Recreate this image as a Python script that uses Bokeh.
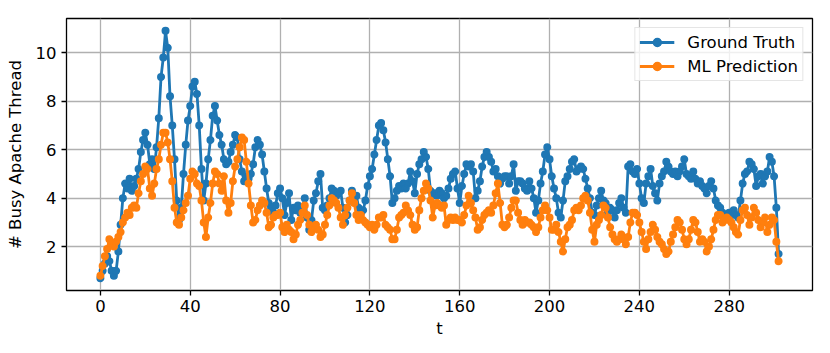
from bokeh.plotting import figure
from bokeh.models import FixedTicker, Range1d
from bokeh.embed import file_html
from bokeh.resources import INLINE

ground_truth = [
    0.7, 1.0, 1.3, 1.6, 1.4, 1.0, 0.8, 1.0, 1.8, 2.9,
    4.0, 4.6, 4.4, 4.8, 4.3, 4.5, 4.8, 5.2, 5.9, 6.4,
    6.7, 6.2, 5.4, 5.6, 5.2, 6.1, 7.3, 9.0, 9.8, 10.9,
    10.2, 8.2, 7.0, 5.6, 3.9, 3.1, 3.6, 5.0, 6.2, 7.2,
    7.8, 8.6, 8.8, 8.3, 7.0, 5.2, 3.9, 4.6, 5.6, 6.4,
    7.4, 7.8, 7.2, 6.6, 6.2, 5.6, 5.4, 5.5, 5.9, 6.2,
    6.6, 6.5, 5.6, 5.1, 4.7, 4.9, 4.8, 5.0, 5.4, 6.1,
    6.4, 6.2, 5.8, 5.1, 4.4, 3.8, 3.6, 3.4, 3.7, 4.2,
    4.4, 4.0, 3.3, 3.8, 4.2, 3.1, 3.6, 3.5, 3.7, 3.4,
    3.6, 4.0, 3.2, 2.7, 3.1, 3.9, 4.2, 4.7, 5.0, 3.6,
    3.5, 3.7, 4.0, 4.4, 4.3, 4.1, 4.2, 4.3, 3.6, 3.0,
    3.3, 3.9, 4.3, 4.0, 4.1, 3.6, 3.4, 3.5, 3.9, 4.5,
    4.9, 5.2, 5.8, 6.4, 7.0, 7.1, 6.8, 6.3, 5.6, 4.9,
    3.8, 4.0, 4.3, 4.5, 4.4, 4.6, 4.4, 4.6, 5.1, 4.7,
    4.2, 5.0, 5.4, 5.6, 5.9, 5.7, 5.2, 4.3, 4.1, 4.2,
    4.1, 4.3, 4.2, 4.0, 4.1, 4.4, 4.8, 5.0, 5.1, 4.4,
    3.8, 4.5, 5.0, 5.4, 5.3, 5.4, 5.1, 4.0, 4.3, 4.7,
    5.3, 5.7, 5.9, 5.7, 5.5, 5.1, 5.2, 4.9, 4.6, 4.8,
    4.9, 4.9, 4.6, 4.9, 5.4, 4.3, 4.7, 4.7, 4.6, 4.4,
    4.3, 4.7, 4.4, 4.0, 3.4, 3.9, 4.6, 5.1, 5.8, 6.1,
    5.6, 4.9, 4.4, 4.0, 3.4, 3.2, 3.9, 4.7, 4.9, 5.2,
    5.5, 5.6, 5.1, 5.2, 5.3, 5.2, 4.8, 4.4, 4.0, 3.4,
    3.3, 3.7, 4.0, 4.3, 3.9, 3.8, 3.4, 3.6, 3.5, 3.2,
    3.5, 3.8, 4.0, 3.6, 3.4, 5.3, 5.4, 5.1, 5.0, 5.2,
    4.6, 4.0, 3.8, 4.6, 4.9, 5.2, 4.5, 4.2, 3.9, 4.6,
    4.9, 5.1, 5.5, 5.3, 5.1, 5.0, 5.1, 4.9, 5.1, 5.3,
    5.6, 5.0, 4.9, 4.8, 5.1, 4.8, 4.6, 4.7, 4.5, 4.4,
    4.2, 4.5, 4.7, 4.4, 3.9, 3.7, 3.6, 3.4, 3.3, 3.2,
    3.4, 3.3, 3.5, 3.3, 3.2, 3.9, 4.6, 5.0, 5.1, 5.5,
    5.4, 5.2, 4.5, 4.9, 5.0, 4.6, 4.9, 5.1, 5.7, 5.5,
    4.9, 3.6, 1.7,
]

# ML prediction (orange)
ml_prediction = [
    0.8, 1.2, 1.6, 1.9, 2.3, 2.1, 2.0, 2.2, 2.4, 2.6,
    3.0, 3.2, 3.4, 3.3, 3.6, 3.7, 3.6, 4.2, 4.7, 5.0,
    5.3, 5.2, 4.4, 4.1, 4.6, 5.2, 5.6, 6.2, 6.7, 6.7,
    6.3, 5.6, 4.7, 3.6, 3.0, 2.9, 3.2, 3.5, 3.8, 4.1,
    4.8, 5.1, 5.0, 4.6, 4.5, 3.9, 3.0, 2.4, 3.2, 3.8,
    4.6, 5.1, 5.0, 4.6, 4.3, 4.9, 3.9, 3.4, 3.8, 4.7,
    5.3, 5.6, 6.1, 6.5, 6.4, 5.5, 4.6, 3.7, 3.0, 3.1,
    3.5, 3.7, 3.9, 3.8, 3.4, 2.8, 2.9, 3.2, 3.3, 3.3,
    3.4, 2.8, 2.6, 2.9, 2.7, 2.6, 2.3, 2.5, 2.9, 3.1,
    3.4, 3.7, 3.3, 2.9, 2.6, 2.8, 2.9, 2.7, 2.4, 2.5,
    2.9, 3.3, 3.7, 4.0, 3.9, 3.8, 3.6, 3.2, 2.9, 3.3,
    3.6, 3.9, 4.2, 3.8, 3.3, 3.1, 3.3, 3.1, 3.0, 2.9,
    2.8, 2.9, 2.7, 2.9, 3.2, 3.2, 3.3, 2.9, 2.8, 2.7,
    2.3, 2.3, 2.7, 3.2, 3.3, 3.4, 3.7, 3.5, 3.3, 2.9,
    2.7, 2.8, 3.5, 4.0, 4.3, 4.6, 4.4, 3.9, 3.2, 3.7,
    3.8, 3.7, 3.6, 3.7, 2.9, 3.1, 3.2, 3.1, 3.2, 3.1,
    3.1, 3.0, 3.3, 3.7, 4.1, 3.8, 3.5, 3.2, 2.7, 2.8,
    3.1, 3.3, 3.4, 3.5, 3.4, 3.7, 4.2, 4.6, 3.8, 2.9,
    2.8, 2.9, 3.2, 3.6, 3.9, 3.9, 3.4, 3.1, 2.9, 3.1,
    3.0, 3.0, 2.9, 2.8, 2.6, 2.8, 3.2, 3.5, 3.7, 3.5,
    3.2, 2.7, 2.7, 2.9, 2.6, 2.2, 1.8, 2.3, 2.8, 2.9,
    3.1, 3.5, 3.6, 3.5, 3.7, 4.0, 4.1, 3.9, 3.4, 2.7,
    2.2, 2.9, 3.1, 3.3, 3.7, 3.6, 3.2, 2.8, 2.5, 2.3,
    2.2, 2.3, 2.5, 2.3, 2.1, 2.4, 3.0, 3.4, 3.4, 3.3,
    3.0, 2.6, 2.2, 1.9, 2.3, 2.6, 2.9, 2.7, 2.4, 2.2,
    2.1, 1.9, 1.7, 1.8, 2.2, 2.5, 2.8, 3.1, 3.0, 2.7,
    2.3, 2.1, 2.3, 2.7, 3.1, 3.0, 2.6, 2.2, 2.3, 2.2,
    1.8, 2.0, 2.3, 2.7, 3.1, 3.3, 3.3, 3.0, 3.1, 3.2,
    3.1, 3.0, 2.8, 2.6, 2.5, 3.1, 3.5, 3.6, 3.3, 2.9,
    3.2, 3.6, 3.4, 3.1, 2.8, 3.0, 3.2, 2.6, 2.9, 3.2,
    3.1, 2.2, 1.4,
]

t = list(range(len(ground_truth)))

x_ticks = [0, 40, 80, 120, 160, 200, 240, 280]
y_ticks = [2, 4, 6, 8, 10]
series_names = ["Ground Truth", "ML Prediction"]
series_colors = ["#1f77b4", "#ff7f0e"]

FONT = "DejaVu Sans"
FS = "16.5px"

tmin, tmax = min(t), max(t)
padx = 0.05 * (tmax - tmin)
allv = ground_truth + ml_prediction
vmin, vmax = min(allv), max(allv)
pady = 0.05 * (vmax - vmin)

p = figure(width=821, height=345, output_backend="svg", toolbar_location=None,
           x_range=Range1d(tmin - padx, tmax + padx),
           y_range=Range1d(vmin - pady, vmax + pady))
p.min_border_left = 66
p.min_border_right = 9
p.min_border_top = 18
p.min_border_bottom = 55
p.background_fill_color = "white"
p.border_fill_color = "white"
p.outline_line_color = "black"
p.outline_line_width = 1.3

for s, c, vals in zip(series_names, series_colors, [ground_truth, ml_prediction]):
    p.line(t, vals, line_color=c, line_width=2.8, legend_label=s)
    p.scatter(t, vals, size=6.5, fill_color=c, line_color=c, line_width=1.5, legend_label=s)

p.xaxis.ticker = FixedTicker(ticks=x_ticks)
p.yaxis.ticker = FixedTicker(ticks=y_ticks)
p.xaxis.axis_label = "t"
p.yaxis.axis_label = "# Busy Apache Thread"
for ax in [p.xaxis[0], p.yaxis[0]]:
    ax.axis_line_color = None
    ax.major_tick_line_color = "black"
    ax.major_tick_line_width = 1.3
    ax.major_tick_out = 5
    ax.major_tick_in = 0
    ax.minor_tick_line_color = None
    ax.major_label_text_font = FONT
    ax.major_label_text_font_size = FS
    ax.major_label_text_color = "black"
    ax.axis_label_text_font = FONT
    ax.axis_label_text_font_size = FS
    ax.axis_label_text_font_style = "normal"
    ax.axis_label_text_color = "black"
p.xaxis.major_label_standoff = 4
p.xaxis.axis_label_standoff = 4
p.yaxis.major_label_standoff = 5
p.yaxis.axis_label_standoff = 8

p.xgrid.grid_line_color = "#b0b0b0"
p.ygrid.grid_line_color = "#b0b0b0"
p.xgrid.grid_line_width = 1.3
p.ygrid.grid_line_width = 1.3

lg = p.legend[0]
lg.location = "top_right"
lg.margin = 9
lg.padding = 4
lg.spacing = 4
lg.glyph_width = 35
lg.glyph_height = 20
lg.label_height = 20
lg.label_standoff = 13
lg.label_text_font = FONT
lg.label_text_font_size = FS
lg.label_text_color = "black"
lg.border_line_color = "#cccccc"
lg.border_line_width = 1
lg.background_fill_color = "white"
lg.background_fill_alpha = 0.8

open("out.html", "w").write(file_html(p, INLINE))
